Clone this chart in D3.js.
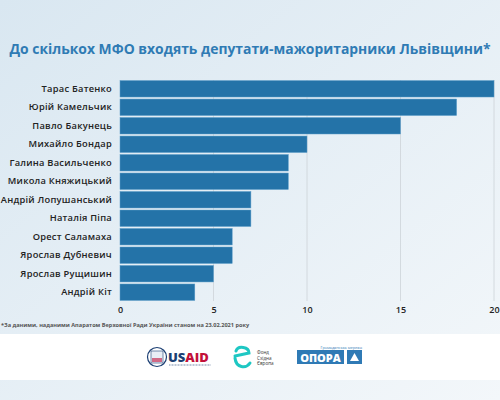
<!DOCTYPE html>
<html>
<head>
<meta charset="utf-8">
<script src="https://cdn.jsdelivr.net/npm/d3@7"></script>
<style>
  body { margin: 0; }
  svg { display: block; }
  text { font-family: "Open Sans", "DejaVu Sans", sans-serif; }
</style>
</head>
<body>
<div id="chart"></div>
<script>
const names = ["Тарас Батенко", "Юрій Камельчик", "Павло Бакунець", "Михайло Бондар",
  "Галина Васильченко", "Микола Княжицький", "Андрій Лопушанський", "Наталія Піпа",
  "Орест Саламаха", "Ярослав Дубневич", "Ярослав Рущишин", "Андрій Кіт"];
const counts = [20, 18, 15, 10, 9, 9, 7, 7, 6, 6, 5, 4];
const xTicks = [0, 5, 10, 15, 20];

const W = 500, H = 400;
const margin = { top: 80, right: 6, bottom: 100, left: 120 };

const svg = d3.select("#chart").append("svg")
    .attr("width", W)
    .attr("height", H);

// background
const defs = svg.append("defs");
const grad = defs.append("linearGradient")
    .attr("id", "bg").attr("x1", "0").attr("y1", "0").attr("x2", "1").attr("y2", "1");
grad.append("stop").attr("offset", "0%").attr("stop-color", "#d9e7f1");
grad.append("stop").attr("offset", "100%").attr("stop-color", "#f3f7fa");
svg.append("rect").attr("width", W).attr("height", H).attr("fill", "url(#bg)");
svg.append("rect").attr("y", 334).attr("width", W).attr("height", 46).attr("fill", "#ffffff");

svg.append("text")
    .attr("x", 250).attr("y", 54)
    .attr("text-anchor", "middle")
    .attr("font-size", 13.9).attr("font-weight", 700)
    .attr("fill", "#2f7bb4")
    .text("До скількох МФО входять депутати-мажоритарники Львівщини*");

const g = svg.append("g")
    .attr("transform", "translate(" + margin.left + "," + margin.top + ")");

const xScale = d3.scaleLinear().domain([0, 20]).range([0, 374]);
const yScale = d3.scaleBand().domain(names).range([0, 221]).paddingInner(0.11).paddingOuter(0.03);

// grid
g.selectAll(".grid")
    .data(xTicks.slice(1))
    .enter().append("line")
    .attr("class", "grid")
    .attr("x1", d => xScale(d)).attr("x2", d => xScale(d))
    .attr("y1", 0).attr("y2", 221)
    .attr("stroke", "#cdd3d8").attr("stroke-width", 0.8);

g.selectAll(".bar")
    .data(counts)
    .enter().append("rect")
    .attr("class", "bar")
    .attr("x", xScale(0))
    .attr("y", (d, i) => yScale(names[i]))
    .attr("width", d => xScale(d) - xScale(0))
    .attr("height", yScale.bandwidth())
    .attr("fill", "#2473a8")
    .attr("stroke", "#5b9cc8").attr("stroke-width", 0.5);

const yAxis = d3.axisLeft(yScale).tickSize(0).tickPadding(8);
g.append("g")
    .attr("class", "axis y-axis")
    .call(yAxis)
    .call(a => a.select(".domain").remove())
    .selectAll("text")
    .attr("font-size", 9.3).attr("font-weight", 600).attr("fill", "#222")
    .style("letter-spacing", "0.25px");

const xAxis = d3.axisBottom(xScale).tickValues(xTicks).tickSize(0).tickPadding(6);
g.append("g")
    .attr("class", "axis x-axis")
    .attr("transform", "translate(0,221)")
    .call(xAxis)
    .call(a => a.select(".domain").remove())
    .selectAll("text")
    .attr("font-size", 9).attr("font-weight", 600).attr("fill", "#222");

svg.selectAll(".axis text").style("font-family", "'Open Sans', sans-serif");

svg.append("text")
    .attr("x", 1).attr("y", 327)
    .attr("font-size", 5.6).attr("font-weight", 700).attr("fill", "#555")
    .text("*За даними, наданими Апаратом Верховної Ради України станом на 23.02.2021 року");

// logos
const logo = svg.append("g");
logo.append("circle").attr("cx", 157).attr("cy", 357).attr("r", 9.5)
    .attr("fill", "#fff").attr("stroke", "#1c3f73").attr("stroke-width", 1.2);
logo.append("rect").attr("x", 151).attr("y", 351).attr("width", 12).attr("height", 12)
    .attr("fill", "#e9eef5").attr("stroke", "#1c3f73").attr("stroke-width", 0.6);
logo.append("rect").attr("x", 152).attr("y", 358).attr("width", 10).attr("height", 4).attr("fill", "#c2113a").attr("opacity", 0.6);
logo.append("text").attr("x", 168).attr("y", 362).attr("font-size", 13).attr("font-weight", 800)
    .attr("fill", "#1c3f73").text("US")
  .append("tspan").attr("fill", "#c2113a").text("AID");
logo.append("line").attr("x1", 169).attr("x2", 211).attr("y1", 365).attr("y2", 365)
    .attr("stroke", "#1c3f73").attr("stroke-width", 0.6).attr("stroke-dasharray", "1 0.5");

logo.append("path")
    .attr("d", "M235,356 L249,353 C249,347 238,345 236,351 M235,358 C236,368 246,369 250,363")
    .attr("fill", "none").attr("stroke", "#1ec7c3").attr("stroke-width", 3).attr("stroke-linecap", "round");
["Фонд", "Східна", "Європа"].forEach((t, i) =>
  logo.append("text").attr("x", 257).attr("y", 354 + i * 5.5).attr("font-size", 4.6)
      .attr("fill", "#333").text(t));

logo.append("text").attr("x", 362).attr("y", 348.5).attr("text-anchor", "end")
    .attr("font-size", 3.8).attr("fill", "#2f7ab5").text("Громадянська мережа");
logo.append("rect").attr("x", 297).attr("y", 350).attr("width", 47).attr("height", 14).attr("fill", "#2f7ab5");
logo.append("text").attr("x", 320.5).attr("y", 361.5).attr("text-anchor", "middle")
    .attr("font-size", 11).attr("font-weight", 800).attr("fill", "#fff").text("ОПОРА");
logo.append("rect").attr("x", 347).attr("y", 350).attr("width", 15).attr("height", 14).attr("fill", "#2f7ab5");
logo.append("path").attr("d", "M350,361 L354.5,353 L359,361 Z").attr("fill", "#fff");
</script>
</body>
</html>
